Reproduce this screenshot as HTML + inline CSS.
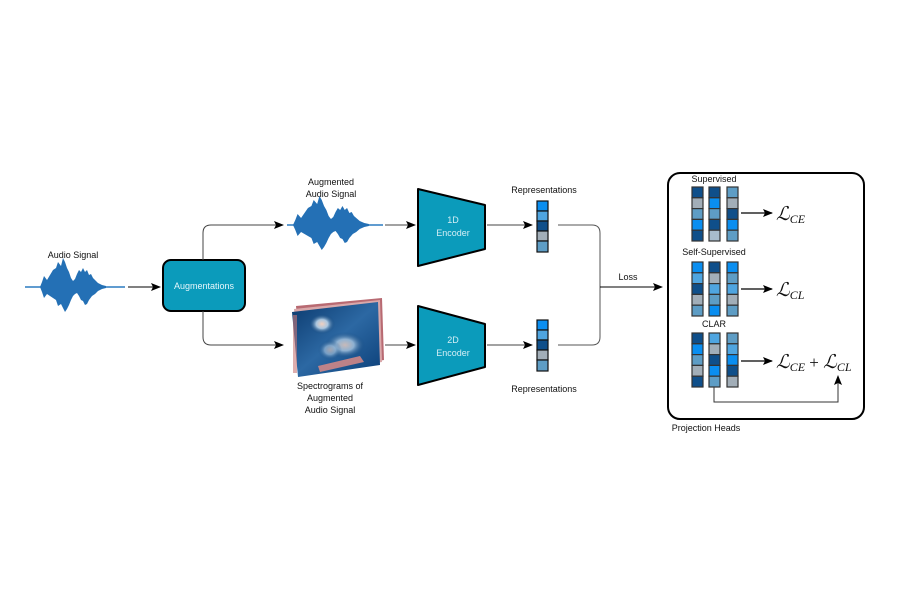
<!DOCTYPE html>
<html><head><meta charset="utf-8"><style>
html,body{margin:0;padding:0;background:#fff;}
svg{display:block;font-family:"Liberation Sans",sans-serif;}
</style></head><body>
<svg width="900" height="600" viewBox="0 0 900 600" xmlns="http://www.w3.org/2000/svg">
<defs>
<marker id="ah" markerWidth="10" markerHeight="8" refX="9" refY="4" orient="auto" markerUnits="userSpaceOnUse">
<path d="M0,0 L10,4 L0,8 L2,4 Z" fill="#000"/></marker>
<radialGradient id="b1" cx="0.5" cy="0.5" r="0.5"><stop offset="0" stop-color="#f0d0c0"/><stop offset="0.45" stop-color="#a9c6e0"/><stop offset="1" stop-color="#0b3f75" stop-opacity="0"/></radialGradient>
<linearGradient id="sp" x1="0" y1="0" x2="1" y2="1"><stop offset="0" stop-color="#0b3a6e"/><stop offset="0.5" stop-color="#2c68a3"/><stop offset="1" stop-color="#0b3f78"/></linearGradient>
<path id="wave" d="M40,287 L42,282 44,276 47,280 50,275 53,270 56,268 58,262 61,266 63,258 65,262 67,268 69,272 71,278 73,281 75,279 77,274 79,270 81,272 83,268 85,272 87,270 89,275 91,274 93,278 95,280 98,283 102,285 106,286 L106,288 102,289 98,291 95,294 92,296 89,300 87,304 85,305 83,301 81,300 79,296 77,293 75,294 73,296 71,300 69,305 67,309 65,312 63,308 61,304 58,306 56,300 53,298 50,296 47,294 44,298 42,292 Z"/>
</defs>

<text x="73" y="258" font-size="9" text-anchor="middle" fill="#111">Audio Signal</text>
<line x1="25" y1="287" x2="125" y2="287" stroke="#2b7bc0" stroke-width="1.5"/>
<use href="#wave" fill="#2470b5"/>
<line x1="128" y1="287" x2="160" y2="287" stroke="#000" stroke-width="1" marker-end="url(#ah)"/>

<rect x="163" y="260" width="82" height="51" rx="8" fill="#0b9bbb" stroke="#000" stroke-width="2"/>
<text x="204" y="289" font-size="9" text-anchor="middle" fill="#e6f6fb">Augmentations</text>
<path d="M203,260 L203,233 Q203,225 211,225 L283,225" fill="none" stroke="#444" stroke-width="1" marker-end="url(#ah)"/>
<path d="M203,311 L203,337 Q203,345 211,345 L283,345" fill="none" stroke="#444" stroke-width="1" marker-end="url(#ah)"/>

<text x="331" y="185" font-size="9" text-anchor="middle" fill="#111">Augmented</text>
<text x="331" y="197" font-size="9" text-anchor="middle" fill="#111">Audio Signal</text>
<line x1="287" y1="225" x2="383" y2="225" stroke="#2b7bc0" stroke-width="1.5"/>
<g transform="translate(253,-62) translate(40,0) scale(1.15,1) translate(-40,0)"><use href="#wave" fill="#2470b5"/></g>
<line x1="385" y1="225" x2="415" y2="225" stroke="#444" stroke-width="1" marker-end="url(#ah)"/>

<polygon points="296,306 382,298 384,360 302,374" fill="#b86a72"/>
<polygon points="294,309 380,300 382,362 300,375" fill="#d9a8aa"/>
<polygon points="292,312 378,302 380,365 298,377" fill="url(#sp)"/>
<ellipse cx="322" cy="324" rx="13" ry="10" fill="url(#b1)"/>
<ellipse cx="345" cy="345" rx="20" ry="13" fill="url(#b1)" opacity="0.8"/>
<ellipse cx="330" cy="350" rx="12" ry="10" fill="url(#b1)" opacity="0.6"/>
<polygon points="318,366 360,356 364,362 320,372" fill="#d98a86" opacity="0.85"/>
<rect x="293" y="315" width="4" height="58" fill="#c87878" opacity="0.6"/>
<line x1="385" y1="345" x2="415" y2="345" stroke="#444" stroke-width="1" marker-end="url(#ah)"/>
<text x="330" y="389" font-size="9" text-anchor="middle" fill="#111">Spectrograms of</text>
<text x="330" y="401" font-size="9" text-anchor="middle" fill="#111">Augmented</text>
<text x="330" y="413" font-size="9" text-anchor="middle" fill="#111">Audio Signal</text>

<polygon points="418,189 485,205 485,249 418,266" fill="#0b9bbb" stroke="#000" stroke-width="2" stroke-linejoin="round"/>
<text x="453" y="223" font-size="9" text-anchor="middle" fill="#d4eef5">1D</text>
<text x="453" y="236" font-size="9" text-anchor="middle" fill="#d4eef5">Encoder</text>
<polygon points="418,306 485,324 485,367 418,385" fill="#0b9bbb" stroke="#000" stroke-width="2" stroke-linejoin="round"/>
<text x="453" y="343" font-size="9" text-anchor="middle" fill="#d4eef5">2D</text>
<text x="453" y="356" font-size="9" text-anchor="middle" fill="#d4eef5">Encoder</text>
<line x1="487" y1="225" x2="532" y2="225" stroke="#444" stroke-width="1" marker-end="url(#ah)"/>
<line x1="487" y1="345" x2="532" y2="345" stroke="#444" stroke-width="1" marker-end="url(#ah)"/>

<text x="544" y="193" font-size="9" text-anchor="middle" fill="#111">Representations</text>
<text x="544" y="392" font-size="9" text-anchor="middle" fill="#111">Representations</text>
<g stroke="#111" stroke-width="1.2">
<rect x="537" y="201" width="11" height="10" fill="#0a8ef0"/>
<rect x="537" y="211" width="11" height="10" fill="#4fa5e0"/>
<rect x="537" y="221" width="11" height="10" fill="#0f4f8a"/>
<rect x="537" y="231" width="11" height="10" fill="#a2aeb8"/>
<rect x="537" y="241" width="11" height="11" fill="#5e9dc5"/>
<rect x="537" y="320" width="11" height="10" fill="#0a8ef0"/>
<rect x="537" y="330" width="11" height="10" fill="#4fa5e0"/>
<rect x="537" y="340" width="11" height="10" fill="#0f4f8a"/>
<rect x="537" y="350" width="11" height="10" fill="#a2aeb8"/>
<rect x="537" y="360" width="11" height="11" fill="#5e9dc5"/>
</g>
<path d="M558,225 L592,225 Q600,225 600,233 L600,337 Q600,345 592,345 L558,345" fill="none" stroke="#555" stroke-width="1"/>
<line x1="600" y1="287" x2="662" y2="287" stroke="#000" stroke-width="1" marker-end="url(#ah)"/>
<text x="628" y="280" font-size="9" text-anchor="middle" fill="#111">Loss</text>

<rect x="668" y="173" width="196" height="246" rx="12" fill="#fff" stroke="#000" stroke-width="2"/>
<text x="706" y="431" font-size="9" text-anchor="middle" fill="#111">Projection Heads</text>

<text x="714" y="182" font-size="9" text-anchor="middle" fill="#111">Supervised</text>
<text x="714" y="255" font-size="9" text-anchor="middle" fill="#111">Self-Supervised</text>
<text x="714" y="327" font-size="9" text-anchor="middle" fill="#111">CLAR</text>

<g stroke="#333" stroke-width="1.2">
<rect x="692" y="187" width="11" height="10.8" fill="#0f4f8a"/><rect x="692" y="197.8" width="11" height="10.8" fill="#a2aeb8"/><rect x="692" y="208.6" width="11" height="10.8" fill="#5e9dc5"/><rect x="692" y="219.4" width="11" height="10.8" fill="#0a8ef0"/><rect x="692" y="230.2" width="11" height="10.8" fill="#0f4f8a"/>
<rect x="709" y="187" width="11" height="10.8" fill="#0f4f8a"/><rect x="709" y="197.8" width="11" height="10.8" fill="#0a8ef0"/><rect x="709" y="208.6" width="11" height="10.8" fill="#5e9dc5"/><rect x="709" y="219.4" width="11" height="10.8" fill="#0f4f8a"/><rect x="709" y="230.2" width="11" height="10.8" fill="#a8bccc"/>
<rect x="727" y="187" width="11" height="10.8" fill="#5e9dc5"/><rect x="727" y="197.8" width="11" height="10.8" fill="#a2aeb8"/><rect x="727" y="208.6" width="11" height="10.8" fill="#0f4f8a"/><rect x="727" y="219.4" width="11" height="10.8" fill="#0a8ef0"/><rect x="727" y="230.2" width="11" height="10.8" fill="#5e9dc5"/>
<rect x="692" y="262" width="11" height="10.8" fill="#0a8ef0"/><rect x="692" y="272.8" width="11" height="10.8" fill="#4fa5e0"/><rect x="692" y="283.6" width="11" height="10.8" fill="#0f4f8a"/><rect x="692" y="294.4" width="11" height="10.8" fill="#a2aeb8"/><rect x="692" y="305.2" width="11" height="10.8" fill="#5e9dc5"/>
<rect x="709" y="262" width="11" height="10.8" fill="#0f4f8a"/><rect x="709" y="272.8" width="11" height="10.8" fill="#a2aeb8"/><rect x="709" y="283.6" width="11" height="10.8" fill="#4fa5e0"/><rect x="709" y="294.4" width="11" height="10.8" fill="#5e9dc5"/><rect x="709" y="305.2" width="11" height="10.8" fill="#0a8ef0"/>
<rect x="727" y="262" width="11" height="10.8" fill="#0a8ef0"/><rect x="727" y="272.8" width="11" height="10.8" fill="#5e9dc5"/><rect x="727" y="283.6" width="11" height="10.8" fill="#4fa5e0"/><rect x="727" y="294.4" width="11" height="10.8" fill="#a2aeb8"/><rect x="727" y="305.2" width="11" height="10.8" fill="#5e9dc5"/>
<rect x="692" y="333" width="11" height="10.8" fill="#0f4f8a"/><rect x="692" y="343.8" width="11" height="10.8" fill="#0a8ef0"/><rect x="692" y="354.6" width="11" height="10.8" fill="#5e9dc5"/><rect x="692" y="365.4" width="11" height="10.8" fill="#a2aeb8"/><rect x="692" y="376.2" width="11" height="10.8" fill="#0f4f8a"/>
<rect x="709" y="333" width="11" height="10.8" fill="#4fa5e0"/><rect x="709" y="343.8" width="11" height="10.8" fill="#a2aeb8"/><rect x="709" y="354.6" width="11" height="10.8" fill="#0f4f8a"/><rect x="709" y="365.4" width="11" height="10.8" fill="#0a8ef0"/><rect x="709" y="376.2" width="11" height="10.8" fill="#5e9dc5"/>
<rect x="727" y="333" width="11" height="10.8" fill="#5e9dc5"/><rect x="727" y="343.8" width="11" height="10.8" fill="#4fa5e0"/><rect x="727" y="354.6" width="11" height="10.8" fill="#0a8ef0"/><rect x="727" y="365.4" width="11" height="10.8" fill="#0f4f8a"/><rect x="727" y="376.2" width="11" height="10.8" fill="#a2aeb8"/>
</g>

<line x1="741" y1="213" x2="772" y2="213" stroke="#000" stroke-width="1.2" marker-end="url(#ah)"/>
<line x1="741" y1="289" x2="772" y2="289" stroke="#000" stroke-width="1.2" marker-end="url(#ah)"/>
<line x1="741" y1="361" x2="772" y2="361" stroke="#000" stroke-width="1.2" marker-end="url(#ah)"/>
<path d="M714,387 L714,402 L838,402 L838,376" fill="none" stroke="#333" stroke-width="1" marker-end="url(#ah)"/>

<g font-family="Liberation Serif,serif" fill="#111">
<text x="776" y="220" font-size="19" font-style="italic">ℒ<tspan font-size="12" dy="3">CE</tspan></text>
<text x="776" y="296" font-size="19" font-style="italic">ℒ<tspan font-size="12" dy="3">CL</tspan></text>
<text x="776" y="368" font-size="19" font-style="italic">ℒ<tspan font-size="12" dy="3">CE</tspan><tspan font-style="normal" font-size="17" dy="-3"> + </tspan>ℒ<tspan font-size="12" dy="3">CL</tspan></text>
</g>
</svg>
</body></html>
